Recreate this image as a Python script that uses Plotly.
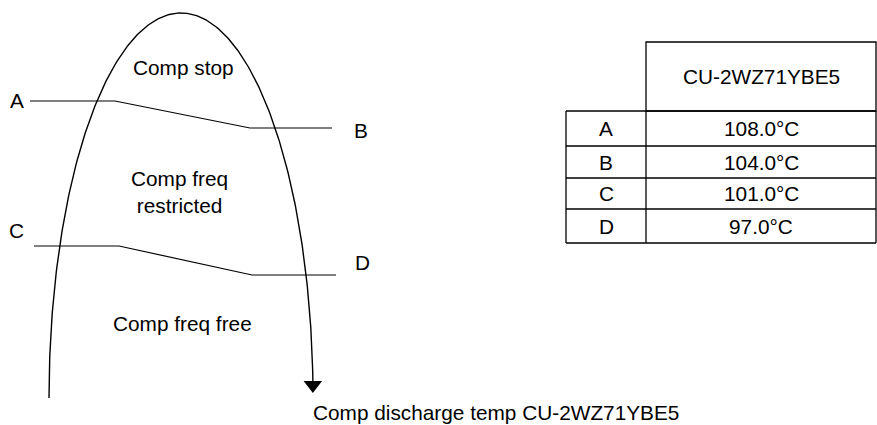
import numpy as np
import plotly.graph_objects as go

# table data
MODEL = "CU-2WZ71YBE5"
POINTS = ["A", "B", "C", "D"]
TEMPS = [108.0, 104.0, 101.0, 97.0]

# zone labels inside the arch
ZONES = ["Comp stop", "Comp freq<br>restricted", "Comp freq free"]
AXIS_TITLE = "Comp discharge temp " + MODEL

# ---- layout (pixel coords, y down) ----
W, H = 877, 425
FONT = dict(family="Liberation Sans, Arial, sans-serif", size=20.8, color="#000000")

# arch: half ellipse
CX, CY, RX, RY = 181, 398, 132, 385
ARC_END_Y = 381

# threshold lines: (x_start, x_bend1, x_bend2, x_end), (y_upper, y_lower)
LINE_X = [(30, 115, 250, 332), (34, 119, 252, 336)]
LINE_Y = [(101, 128), (246, 275)]
LABEL_POS = [(17, 100), (361, 130), (16, 230), (362, 262)]
ZONE_POS = [(183, 67), (179, 192), (182, 323)]

# table grid
TBL_X = [566, 646, 876]
HEADER_TOP = 42
ROW_Y = [111, 146, 178, 209, 243]

fig = go.Figure()

# arch curve (left foot up to the top and down the right side)
t = np.linspace(np.pi, 2 * np.pi - np.arcsin((CY - ARC_END_Y) / RY), 300)
fig.add_trace(go.Scatter(
    x=CX + RX * np.cos(t), y=CY + RY * np.sin(t),
    mode="lines", line=dict(color="black", width=1.4),
    hoverinfo="skip", showlegend=False,
))
# arrow head
fig.add_trace(go.Scatter(
    x=[CX + RX * np.cos(t[-1])], y=[ARC_END_Y + 4],
    mode="markers", marker=dict(symbol="triangle-down", size=16, color="black"),
    hoverinfo="skip", showlegend=False,
))

# threshold lines A-B and C-D
for xs, ys in zip(LINE_X, LINE_Y):
    fig.add_trace(go.Scatter(
        x=list(xs), y=[ys[0], ys[0], ys[1], ys[1]],
        mode="lines", line=dict(color="black", width=1.2),
        hoverinfo="skip", showlegend=False,
    ))

annotations = []
for name, (x, y) in zip(POINTS, LABEL_POS):
    annotations.append(dict(x=x, y=y, text=name, showarrow=False))
for txt, (x, y) in zip(ZONES, ZONE_POS):
    annotations.append(dict(x=x, y=y, text=txt, showarrow=False))
annotations.append(dict(x=311, y=412, text=AXIS_TITLE, showarrow=False, xanchor="left"))

# table
shapes = []
line = dict(color="black", width=1.3)
# header cell (only over the value column)
shapes.append(dict(type="rect", x0=TBL_X[1], x1=TBL_X[2], y0=HEADER_TOP, y1=ROW_Y[0], line=line))
for y in ROW_Y:
    shapes.append(dict(type="line", x0=TBL_X[0], x1=TBL_X[2], y0=y, y1=y, line=line))
for x in TBL_X:
    shapes.append(dict(type="line", x0=x, x1=x, y0=ROW_Y[0], y1=ROW_Y[-1], line=line))

annotations.append(dict(x=(TBL_X[1] + TBL_X[2]) / 2, y=(HEADER_TOP + ROW_Y[0]) / 2,
                        text=MODEL, showarrow=False))
for i, (name, temp) in enumerate(zip(POINTS, TEMPS)):
    yc = (ROW_Y[i] + ROW_Y[i + 1]) / 2
    annotations.append(dict(x=(TBL_X[0] + TBL_X[1]) / 2, y=yc, text=name, showarrow=False))
    annotations.append(dict(x=(TBL_X[1] + TBL_X[2]) / 2, y=yc, text=f"{temp:.1f}°C", showarrow=False))

fig.update_layout(
    width=W, height=H,
    margin=dict(l=0, r=0, t=0, b=0),
    paper_bgcolor="white", plot_bgcolor="white",
    font=FONT,
    xaxis=dict(range=[0, W], visible=False, fixedrange=True),
    yaxis=dict(range=[H, 0], visible=False, fixedrange=True),
    shapes=shapes,
    annotations=annotations,
)

fig.write_html("out.html", config={"displayModeBar": False},
               post_script="document.body.style.margin='0';")
